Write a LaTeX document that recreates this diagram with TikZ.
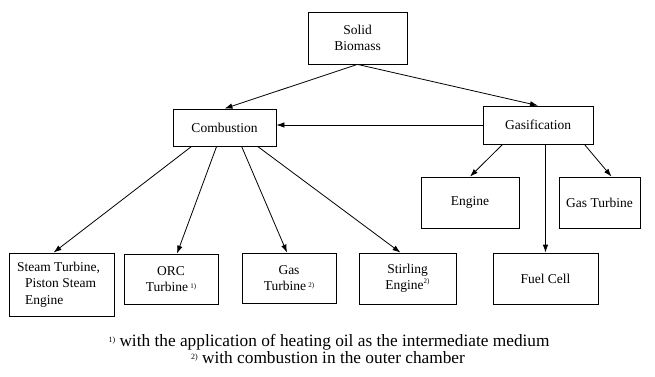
\documentclass[tikz,border=0pt]{standalone}
\usepackage{fontspec}
\setmainfont{Liberation Serif}
\usetikzlibrary{arrows.meta}
\begin{document}
\begin{tikzpicture}[x=1pt,y=-1pt,
  box/.style={draw, line width=0.8pt, inner sep=0pt, font=\fontsize{13.5}{16.5}\selectfont, align=center},
  arr/.style={line width=0.8pt, -{Latex[length=8pt,width=5.5pt]}},
  note/.style={font=\fontsize{17.3}{19}\selectfont, inner sep=0pt}]
\useasboundingbox (0,0) rectangle (655,376);
% top
\node[box, minimum width=99pt, minimum height=52pt] (sb) at (357.5,38) {Solid\\Biomass};
\node[box, minimum width=103pt, minimum height=37pt] (comb) at (224.5,127.5) {Combustion};
\node[box, minimum width=110pt, minimum height=38pt] (gas) at (538,125) {Gasification};
\node[box, minimum width=98pt, minimum height=51pt] (eng) at (470,202.5) {Engine};
\node[box, minimum width=81pt, minimum height=51pt] (gt) at (599.5,202.5) {Gas Turbine};
% bottom row
\node[box, minimum width=105pt, minimum height=63pt, align=left] (st) at (61.5,284.5) {Steam Turbine,\hspace*{6pt}\\\hspace*{8pt}Piston Steam\\\hspace*{8pt}Engine};
\node[box, minimum width=94pt, minimum height=50pt] (orc) at (171,279) {ORC\\Turbine\,\raisebox{3pt}{\scriptsize 1)}};
\node[box, minimum width=94pt, minimum height=50pt] (gtb) at (289,278) {Gas\\Turbine\,\raisebox{3pt}{\scriptsize 2)}};
\node[box, minimum width=97pt, minimum height=51pt] (stir) at (407.5,278.5) {Stirling\\Engine\raisebox{6pt}{\scriptsize 2)}};
\node[box, minimum width=105pt, minimum height=51pt] (fc) at (545.5,278.5) {Fuel Cell};
% connectors
\draw[arr] (sb.south) -- (comb.north);
\draw[arr] (sb.south) -- (gas.north);
\draw[arr] (gas.west) -- (comb.east |- gas.west);
\draw[arr] ([xshift=20pt]gas.south west) -- (eng.north);
\draw[arr] ([xshift=-9pt]gas.south east) -- ([xshift=12pt]gt.north);
\draw[arr] (gas.south -| fc.north) -- (fc.north);
\draw[arr] ([xshift=19pt]comb.south west) -- ([xshift=-8pt]st.north);
\draw[arr] ([xshift=44pt]comb.south west) -- ([xshift=6pt]orc.north);
\draw[arr] ([xshift=69pt]comb.south west) -- ([xshift=-2pt]gtb.north);
\draw[arr] ([xshift=85pt]comb.south west) -- ([xshift=-7pt]stir.north);
% notes
\node[note] (n1) at (329,342) {\raisebox{4pt}{\footnotesize 1)}\ with the application of heating oil as the intermediate medium};
\node[note] (n2) at (328,358) {\raisebox{4pt}{\footnotesize 2)}\ with combustion in the outer chamber};
\end{tikzpicture}
\end{document}
